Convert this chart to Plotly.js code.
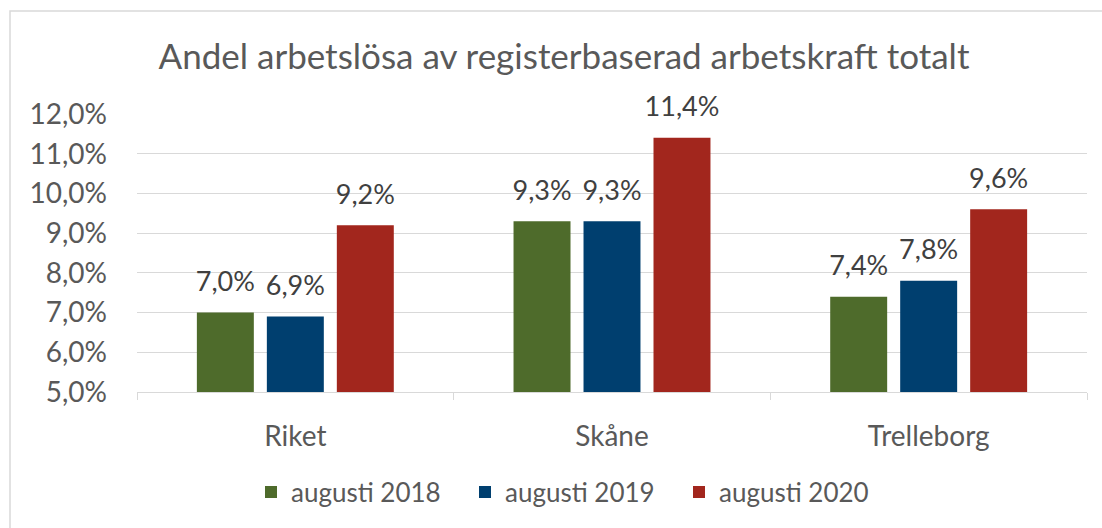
<!DOCTYPE html>
<html>
<head>
<meta charset="utf-8">
<script src="https://cdn.plot.ly/plotly-3.0.1.min.js"></script>
<style>
html,body{margin:0;padding:0;background:#fff;}
#chart{width:1102px;height:528px;}
</style>
</head>
<body>
<div id="chart"></div>
<script>
const categories = ["Riket", "Skåne", "Trelleborg"];
const seriesNames = ["augusti 2018", "augusti 2019", "augusti 2020"];
const values2018 = [0.070, 0.093, 0.074];
const values2019 = [0.069, 0.093, 0.078];
const values2020 = [0.092, 0.114, 0.096];
const colors = ["#4e6b2b", "#003f6f", "#a2261d"];
const titleText = "Andel arbetslösa av registerbaserad arbetskraft totalt";

const FONT = "Lato, 'Noto Sans', sans-serif";
const allValues = [values2018, values2019, values2020];
const BARGAP = 0.337;

const barTraces = allValues.map((vals, i) => ({
  type: "bar",
  name: seriesNames[i],
  x: categories,
  y: vals,
  marker: {color: colors[i]},
  hoverinfo: "skip"
}));

const labelTraces = allValues.map((vals, i) => ({
  type: "scatter",
  mode: "markers+text",
  showlegend: false,
  x: categories,
  y: vals,
  marker: {size: 22, opacity: 0, color: colors[i]},
  texttemplate: "%{y:.1%}",
  textposition: "top center",
  cliponaxis: false,
  textfont: {family: FONT, size: 27, color: "#404040"},
  hoverinfo: "skip"
}));

const L = 137, R = 15, T = 114, B = 136;
const W = 1102 - L - R, H = 528 - T - B;
const px = v => (v - L) / W;
const py = v => (528 - B - v) / H;

const layout = {
  width: 1102, height: 528,
  margin: {l: L, r: R, t: T, b: B, pad: 0},
  paper_bgcolor: "#ffffff",
  plot_bgcolor: "#ffffff",
  separators: ", ",
  font: {family: FONT, color: "#595959"},
  title: {
    text: titleText,
    font: {family: FONT, size: 35, color: "#595959"},
    x: 564 / 1102, xanchor: "center",
    y: 1 - 57 / 528, yanchor: "middle"
  },
  barmode: "group",
  bargap: BARGAP,
  bargroupgap: 0.186,
  scattermode: "group",
  scattergap: BARGAP,
  xaxis: {
    type: "category",
    showgrid: false,
    showline: true, linecolor: "#d9d9d9", linewidth: 1,
    ticks: "outside", tickson: "boundaries", ticklen: 7, tickcolor: "#d9d9d9",
    tickfont: {family: FONT, size: 28, color: "#595959"},
    ticklabelstandoff: 19,
    fixedrange: true
  },
  yaxis: {
    range: [0.05, 0.12],
    dtick: 0.01,
    tickformat: ".1%",
    showgrid: true, gridcolor: "#d9d9d9", gridwidth: 1,
    zeroline: false, showline: false,
    ticks: "",
    tickfont: {family: FONT, size: 28, color: "#595959"},
    ticklabelstandoff: 29,
    fixedrange: true
  },
  legend: {
    orientation: "h",
    x: px(572), xanchor: "center",
    y: py(492), yanchor: "middle",
    font: {family: FONT, size: 26, color: "#595959"},
    itemwidth: 30,
    entrywidth: 169,
    entrywidthmode: "pixels",
    traceorder: "normal"
  },
  shapes: [{
    type: "rect", xref: "paper", yref: "paper",
    x0: px(10), x1: px(1110), y0: py(540), y1: py(11),
    line: {color: "#d9d9d9", width: 1.5},
    fillcolor: "rgba(0,0,0,0)", layer: "below"
  }]
};

Plotly.newPlot("chart", barTraces.concat(labelTraces), layout, {staticPlot: true, displayModeBar: false});
</script>
</body>
</html>
